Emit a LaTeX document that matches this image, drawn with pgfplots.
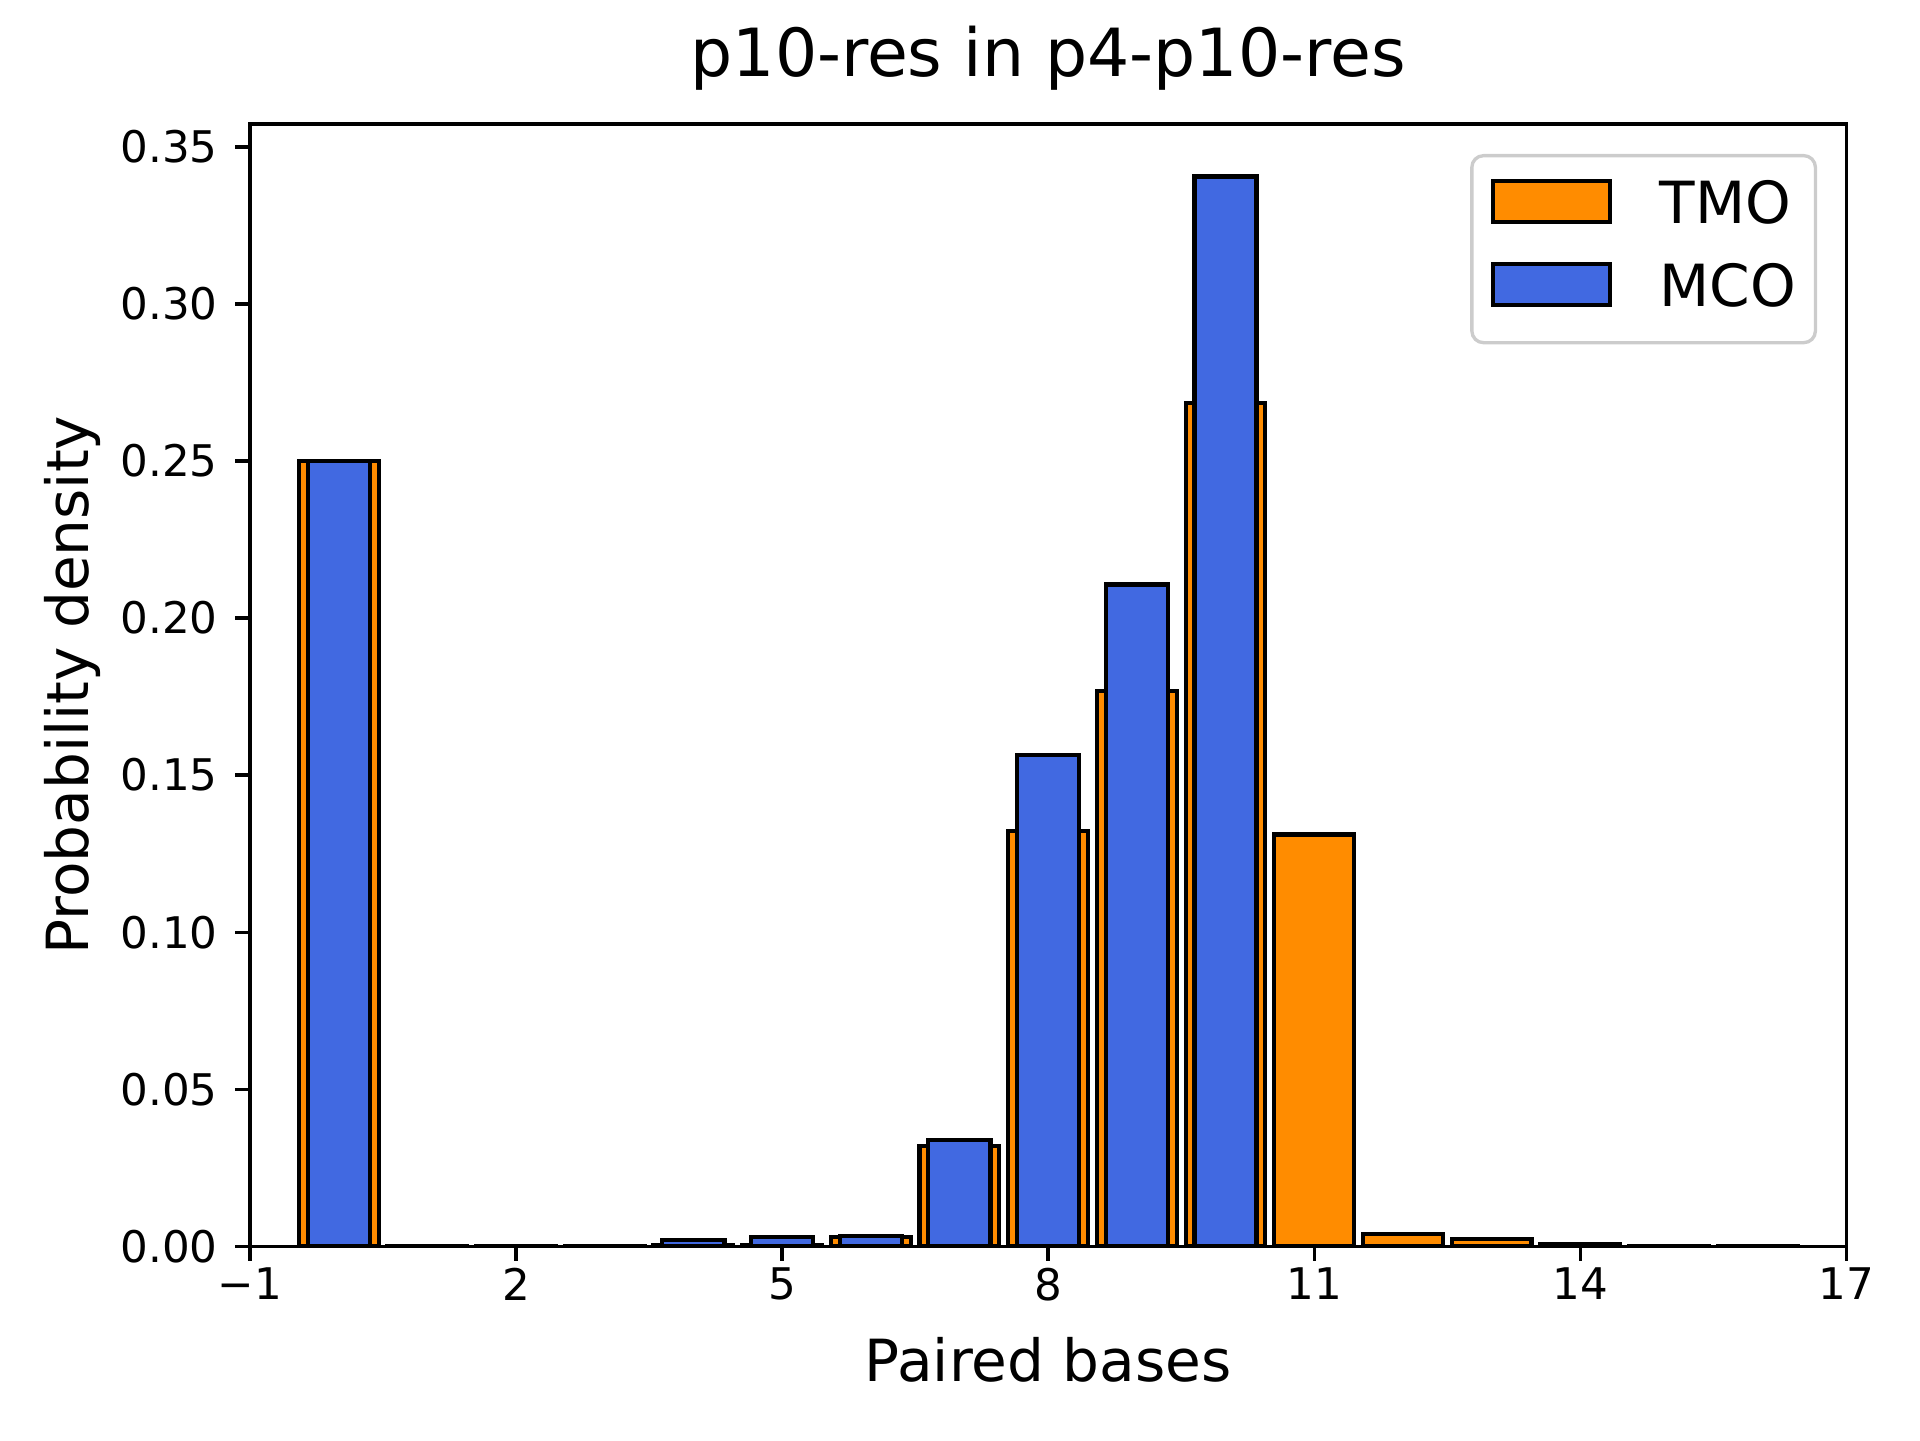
\documentclass[border=0pt]{standalone}
\usepackage{pgfplots}
\usepackage{pgfplotstable}
\pgfplotsset{compat=1.18}
\usepackage{fontspec}
\setmainfont{DejaVu Sans}
\definecolor{tmo}{RGB}{255,140,0}
\definecolor{mco}{RGB}{65,105,225}
\pgfplotsset{
  mylegendA/.style={legend image code/.code={\draw[##1, sharp corners] (0bp,-4.9bp) rectangle (28bp,4.9bp);}},
  mylegendB/.style={legend image code/.code={\draw[##1, sharp corners] (0bp,-4.9bp) rectangle (28bp,4.9bp); \path (0bp,-9.3bp);}},
}
\newcommand{\lstrut}{\rule[-1.9bp]{0pt}{14bp}}

\pgfplotstableread{
x y
0 0.2501
1 0.0002
2 0.0002
3 0.0002
4 0.0003
5 0.0003
6 0.0030
7 0.0320
8 0.1323
9 0.1767
10 0.2684
11 0.1311
12 0.0038
13 0.0023
14 0.0008
15 0.0002
16 0.0002
}\tmotable

\pgfplotstableread{
x y
0 0.2501
4 0.0019
5 0.0030
6 0.0033
7 0.0339
8 0.1565
9 0.2107
10 0.3406
}\mcotable

\begin{document}
\begin{tikzpicture}
\begin{axis}[
  scale only axis, width=383.1bp, height=269.35bp,
  at={(0,0)}, anchor=south west,
  xmin=-1, xmax=17, ymin=0, ymax=0.3573,
  xtick={-1,2,5,8,11,14,17},
  xticklabels={−1,2,5,8,11,14,17},
  ytick={0,0.05,0.1,0.15,0.2,0.25,0.3,0.35},
  yticklabels={0.00,0.05,0.10,0.15,0.20,0.25,0.30,0.35},
  tick pos=left,
  tick align=outside,
  major tick length=3.5bp,
  tick style={line width=0.8bp, black},
  axis line style={line width=0.8bp},
  tick label style={font=\fontsize{10.5}{12.6}\selectfont, inner sep=0pt},
  xticklabel style={anchor=north, yshift=-1.5bp},
  yticklabel style={anchor=east, xshift=-4.1bp},
  title={p10-res in p4-p10-res},
  title style={font=\fontsize{16}{19.2}\selectfont, at={(axis description cs:0.5,1)}, anchor=base, yshift=5.35bp, inner sep=0pt},
  xlabel={Paired bases},
  xlabel style={font=\fontsize{14}{16.8}\selectfont, at={(axis description cs:0.5,0)}, anchor=base, yshift=-32.5bp, inner sep=0pt},
  ylabel={Probability density},
  ylabel style={font=\fontsize{14}{16.8}\selectfont, at={(axis description cs:-0.1010,0.5)}, anchor=base, inner sep=0pt},
  legend cell align=left,
  legend style={at={(axis description cs:1,1)}, anchor=north east, xshift=-7bp, yshift=-7.2bp,
    draw=black!20, line width=0.8bp, rounded corners=2.8bp, fill=white,
    font=\fontsize{14}{16.8}\selectfont,
    inner xsep=4.6bp, inner ysep=4.2bp, row sep=6.3bp,
    nodes={inner sep=0pt},
    /tikz/every odd column/.append style={column sep=11.5bp}},
]
\addplot[ybar, bar width=0.9, bar shift=0pt, fill=tmo, draw=black, line width=1bp, mylegendA]
  table[x=x, y=y] {\tmotable};
\addlegendentry{\lstrut TMO}
\addplot[ybar, bar width=0.7, bar shift=0pt, fill=mco, draw=black, line width=1bp, mylegendB]
  table[x=x, y=y] {\mcotable};
\addlegendentry{\lstrut MCO}
\end{axis}
\pgfresetboundingbox
\path[use as bounding box] (-60.0bp,-46.49bp) rectangle (400.8bp,299.11bp);
\end{tikzpicture}
\end{document}
